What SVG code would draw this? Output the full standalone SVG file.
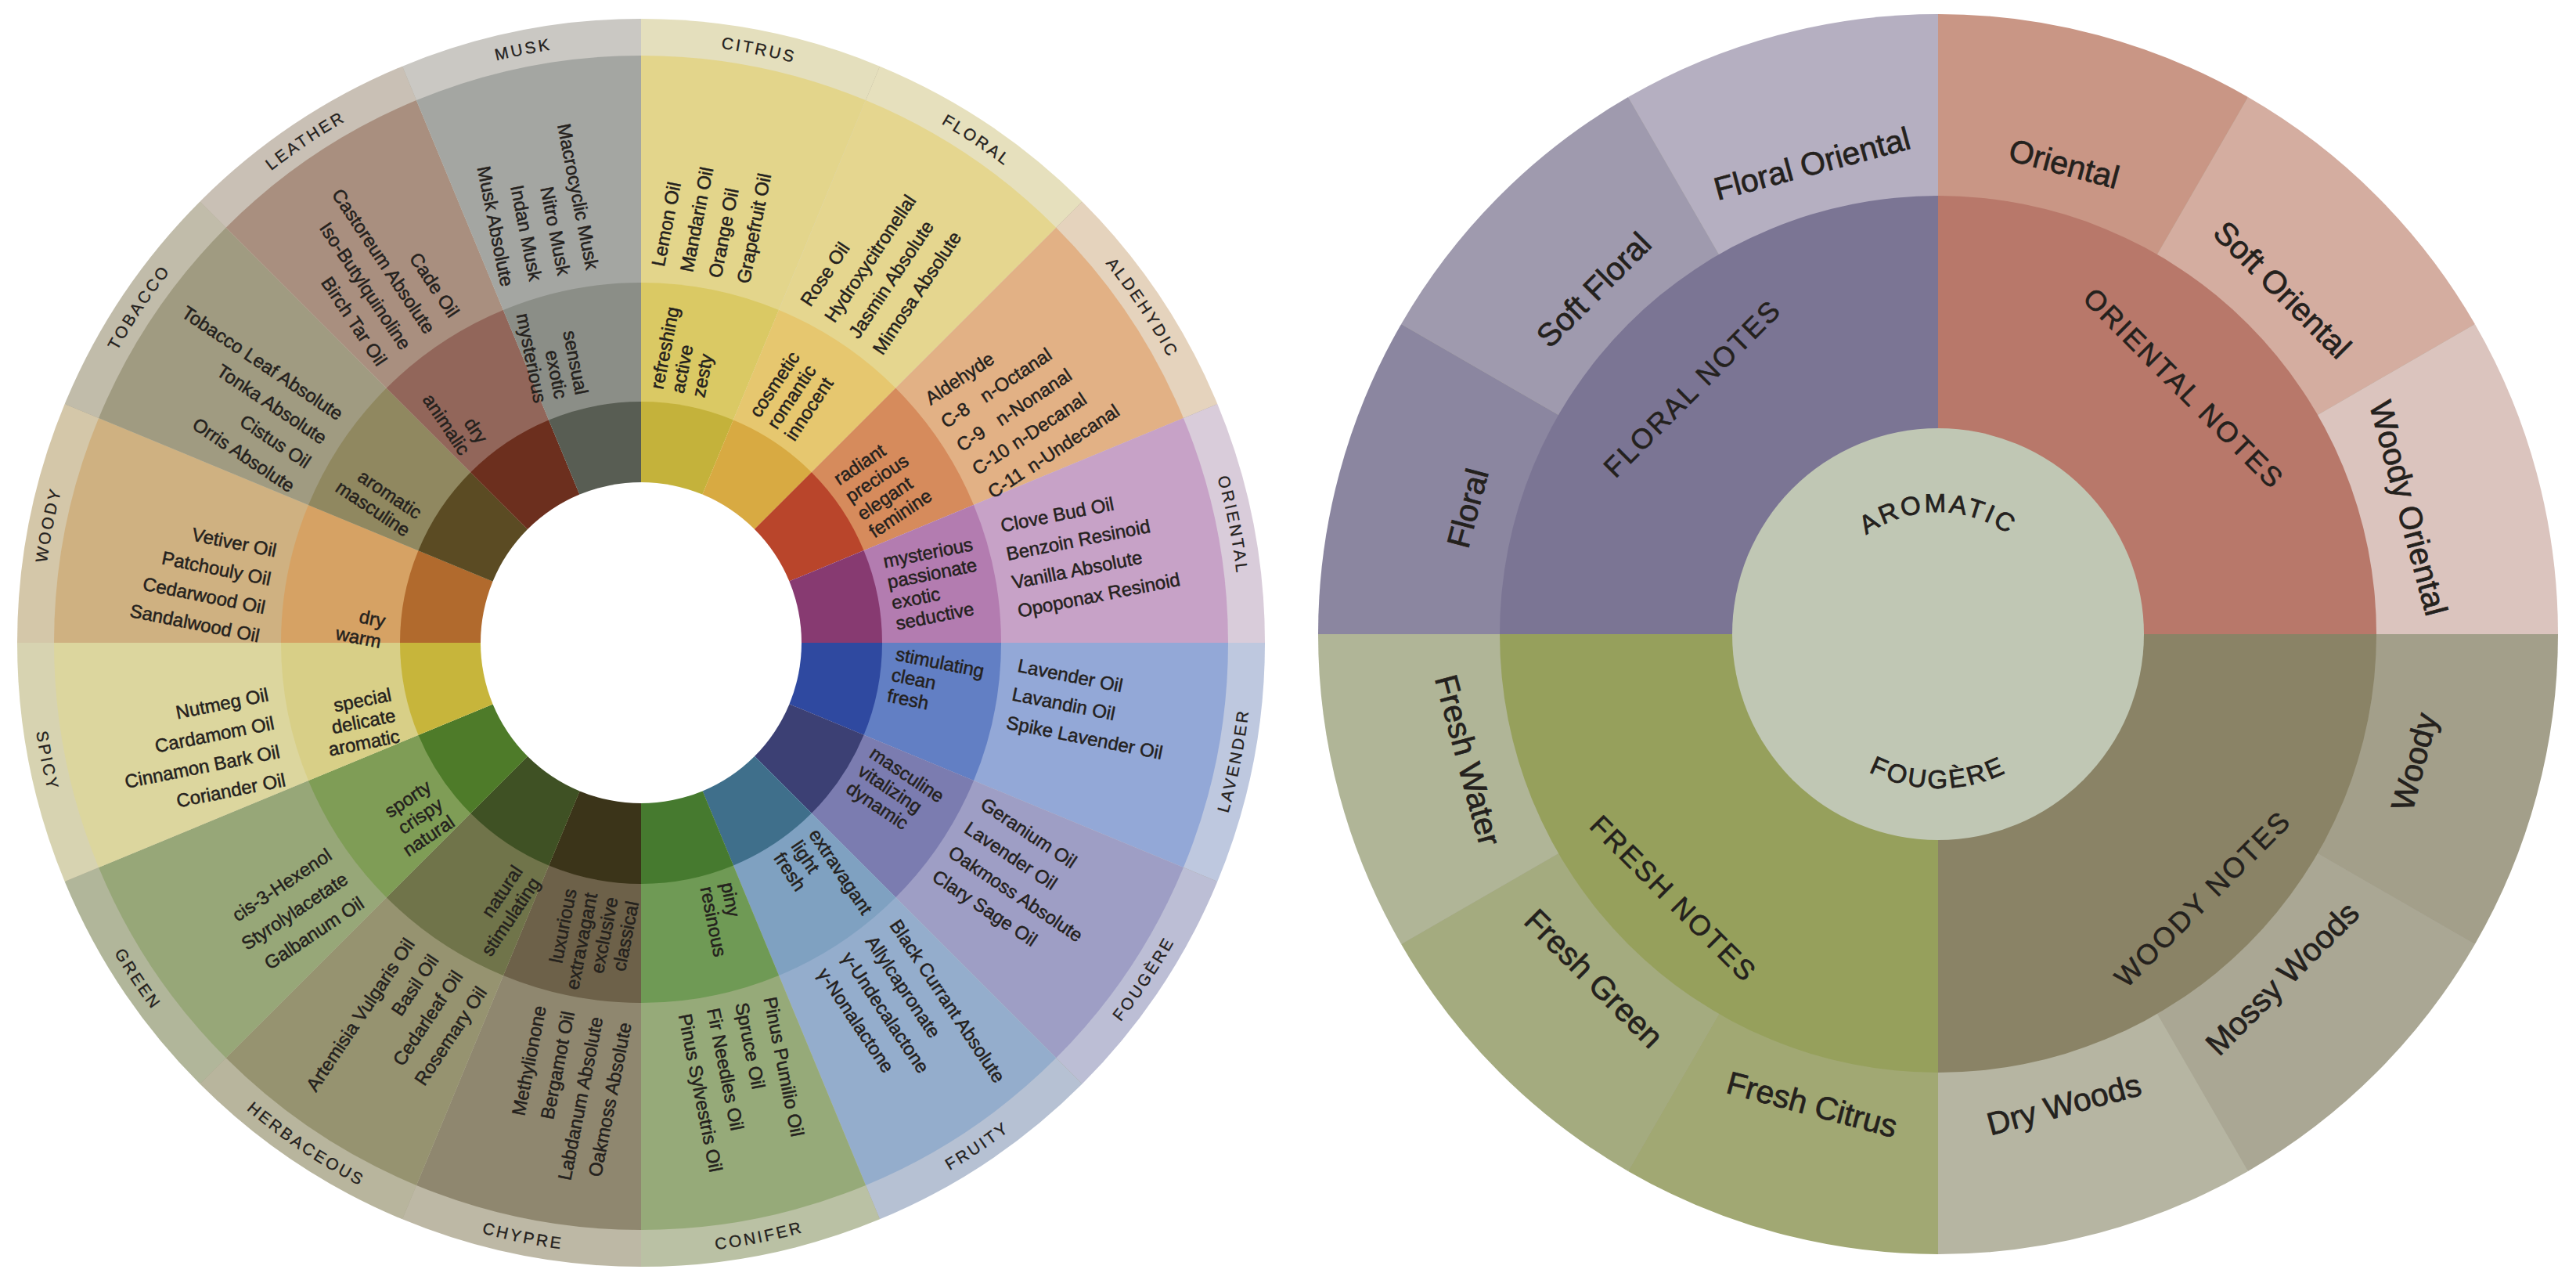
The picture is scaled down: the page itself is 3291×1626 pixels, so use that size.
<svg xmlns="http://www.w3.org/2000/svg" width="3291" height="1626" viewBox="0 0 3291 1626">
<defs>
<path id="w16" d="M0 0L0 -1A1 1 0 0 1 0.382683 -0.92388Z"/>
<path id="w12" d="M0 0L0 -1A1 1 0 0 1 0.5 -0.866025Z"/>
<path id="w4" d="M0 0L0 -1A1 1 0 0 1 1 0Z"/>
<path id="lt" d="M819 1587A766 766 0 0 1 819 55A766 766 0 0 1 819 1587"/>
<path id="lb" d="M819 40A781 781 0 0 0 819 1602A781 781 0 0 0 819 40"/>
<path id="rt" d="M2476 966A156 156 0 0 1 2476 654A156 156 0 0 1 2476 966"/>
<path id="rb" d="M2476 613A197 197 0 0 0 2476 1007A197 197 0 0 0 2476 613"/>
</defs>
<style>
text{font-family:"Liberation Sans",Arial,sans-serif;fill:#24211d;stroke:#24211d;stroke-width:0.5px}
.o,.d{font-size:24px;dominant-baseline:central}
.r{text-anchor:start}
.l{text-anchor:end}
.cat{font-size:21px;letter-spacing:3px;text-anchor:middle;stroke-width:0.3px}
.sub{font-size:41px;text-anchor:middle;dominant-baseline:central;stroke-width:0.7px}
.note{font-size:36px;letter-spacing:2.5px;text-anchor:middle;dominant-baseline:central;stroke-width:0.6px}
.ctr{font-size:33px;letter-spacing:3px;text-anchor:middle;stroke-width:0.8px}
</style>
<rect width="3291" height="1626" fill="#fff"/>

<!-- LEFT WHEEL: wedges -->
<g id="left-wheel">
<circle cx="819" cy="821" r="796" fill="#a8a28e"/>
<g id="seg-citrus" transform="translate(819 821) rotate(0)">
<use href="#w16" transform="scale(797)" fill="#e4dfbd"/><use href="#w16" transform="scale(750)" fill="#e3d58b"/><use href="#w16" transform="scale(460)" fill="#dac964"/><use href="#w16" transform="scale(308)" fill="#c4b23b"/></g>
<g id="seg-floral" transform="translate(819 821) rotate(22.5)">
<use href="#w16" transform="scale(797)" fill="#e6e0bd"/><use href="#w16" transform="scale(750)" fill="#e5d68f"/><use href="#w16" transform="scale(460)" fill="#e6c76f"/><use href="#w16" transform="scale(308)" fill="#d8aa42"/></g>
<g id="seg-aldehydic" transform="translate(819 821) rotate(45)">
<use href="#w16" transform="scale(797)" fill="#e5d3bd"/><use href="#w16" transform="scale(750)" fill="#e2b185"/><use href="#w16" transform="scale(460)" fill="#d68b5c"/><use href="#w16" transform="scale(308)" fill="#b9452b"/></g>
<g id="seg-oriental" transform="translate(819 821) rotate(67.5)">
<use href="#w16" transform="scale(797)" fill="#d9ccda"/><use href="#w16" transform="scale(750)" fill="#c7a2c7"/><use href="#w16" transform="scale(460)" fill="#b37cb0"/><use href="#w16" transform="scale(308)" fill="#873a71"/></g>
<g id="seg-lavender" transform="translate(819 821) rotate(90)">
<use href="#w16" transform="scale(797)" fill="#bec8df"/><use href="#w16" transform="scale(750)" fill="#93a8d7"/><use href="#w16" transform="scale(460)" fill="#627fc4"/><use href="#w16" transform="scale(308)" fill="#2f49a0"/></g>
<g id="seg-fougere" transform="translate(819 821) rotate(112.5)">
<use href="#w16" transform="scale(797)" fill="#bcbed5"/><use href="#w16" transform="scale(750)" fill="#9e9ec5"/><use href="#w16" transform="scale(460)" fill="#7b7cb0"/><use href="#w16" transform="scale(308)" fill="#3c4074"/></g>
<g id="seg-fruity" transform="translate(819 821) rotate(135)">
<use href="#w16" transform="scale(797)" fill="#b6c1d3"/><use href="#w16" transform="scale(750)" fill="#94adcc"/><use href="#w16" transform="scale(460)" fill="#7fa1c1"/><use href="#w16" transform="scale(308)" fill="#3f6f8b"/></g>
<g id="seg-conifer" transform="translate(819 821) rotate(157.5)">
<use href="#w16" transform="scale(797)" fill="#bac1a4"/><use href="#w16" transform="scale(750)" fill="#96aa79"/><use href="#w16" transform="scale(460)" fill="#6f9a55"/><use href="#w16" transform="scale(308)" fill="#467a2f"/></g>
<g id="seg-chypre" transform="translate(819 821) rotate(180)">
<use href="#w16" transform="scale(797)" fill="#bdb8a5"/><use href="#w16" transform="scale(750)" fill="#8f876f"/><use href="#w16" transform="scale(460)" fill="#6d6149"/><use href="#w16" transform="scale(308)" fill="#3b3419"/></g>
<g id="seg-herbaceous" transform="translate(819 821) rotate(202.5)">
<use href="#w16" transform="scale(797)" fill="#b8b59d"/><use href="#w16" transform="scale(750)" fill="#969370"/><use href="#w16" transform="scale(460)" fill="#70744a"/><use href="#w16" transform="scale(308)" fill="#3f5124"/></g>
<g id="seg-green" transform="translate(819 821) rotate(225)">
<use href="#w16" transform="scale(797)" fill="#b1b69a"/><use href="#w16" transform="scale(750)" fill="#97a778"/><use href="#w16" transform="scale(460)" fill="#7f9d56"/><use href="#w16" transform="scale(308)" fill="#4e7b29"/></g>
<g id="seg-spicy" transform="translate(819 821) rotate(247.5)">
<use href="#w16" transform="scale(797)" fill="#d7d3b1"/><use href="#w16" transform="scale(750)" fill="#dcd69e"/><use href="#w16" transform="scale(460)" fill="#d8cf87"/><use href="#w16" transform="scale(308)" fill="#c7b53b"/></g>
<g id="seg-woody" transform="translate(819 821) rotate(270)">
<use href="#w16" transform="scale(797)" fill="#d4c7a9"/><use href="#w16" transform="scale(750)" fill="#cfb181"/><use href="#w16" transform="scale(460)" fill="#d6a264"/><use href="#w16" transform="scale(308)" fill="#b16a2d"/></g>
<g id="seg-tobacco" transform="translate(819 821) rotate(292.5)">
<use href="#w16" transform="scale(797)" fill="#c1bcaa"/><use href="#w16" transform="scale(750)" fill="#a09b81"/><use href="#w16" transform="scale(460)" fill="#908860"/><use href="#w16" transform="scale(308)" fill="#5b4b23"/></g>
<g id="seg-leather" transform="translate(819 821) rotate(315)">
<use href="#w16" transform="scale(797)" fill="#c9c0b5"/><use href="#w16" transform="scale(750)" fill="#a98f7f"/><use href="#w16" transform="scale(460)" fill="#92665a"/><use href="#w16" transform="scale(308)" fill="#6c2f1e"/></g>
<g id="seg-musk" transform="translate(819 821) rotate(337.5)">
<use href="#w16" transform="scale(797)" fill="#cac8c3"/><use href="#w16" transform="scale(750)" fill="#a4a6a2"/><use href="#w16" transform="scale(460)" fill="#8b8e87"/><use href="#w16" transform="scale(308)" fill="#585d53"/></g>
<circle cx="819" cy="821" r="205" fill="#fff"/>
</g>

<!-- LEFT WHEEL: texts -->
<g id="left-texts">
<g id="t-citrus" transform="translate(819 821) rotate(-78.75)">
<text class="o r" x="476" y="-73">Lemon Oil</text><text class="o r" x="476" y="-36">Mandarin Oil</text><text class="o r" x="476" y="1">Orange Oil</text><text class="o r" x="476" y="38">Grapefruit Oil</text>
<text class="d r" x="322" y="-44">refreshing</text><text class="d r" x="322" y="-17">active</text><text class="d r" x="322" y="10">zesty</text></g>
<g id="t-floral" transform="translate(819 821) rotate(-56.25)">
<text class="o r" x="476" y="-66.5">Rose Oil</text><text class="o r" x="476" y="-29.5">Hydroxycitronellal</text><text class="o r" x="476" y="7.5">Jasmin Absolute</text><text class="o r" x="476" y="44.5">Mimosa Absolute</text>
<text class="d r" x="322" y="-42">cosmetic</text><text class="d r" x="322" y="-15">romantic</text><text class="d r" x="322" y="12">innocent</text></g>
<g id="t-aldehydic" transform="translate(819 821) rotate(-33.75)">
<text class="o r" x="476" y="-55">Aldehyde</text>
<text class="o r" x="476" y="-19">C-8<tspan x="536">n-Octanal</tspan></text>
<text class="o r" x="476" y="17">C-9<tspan x="536">n-Nonanal</tspan></text>
<text class="o r" x="476" y="53">C-10<tspan x="536">n-Decanal</tspan></text>
<text class="o r" x="476" y="89">C-11<tspan x="536">n-Undecanal</tspan></text>
<text class="d r" x="322" y="-34.5">radiant</text><text class="d r" x="322" y="-7.5">precious</text><text class="d r" x="322" y="19.5">elegant</text><text class="d r" x="322" y="46.5">feminine</text></g>
<g id="t-oriental" transform="translate(819 821) rotate(-11.25)">
<text class="o r" x="480" y="-57">Clove Bud Oil</text><text class="o r" x="480" y="-20">Benzoin Resinoid</text><text class="o r" x="480" y="17">Vanilla Absolute</text><text class="o r" x="480" y="54">Opoponax Resinoid</text>
<text class="d r" x="324" y="-41.5">mysterious</text><text class="d r" x="324" y="-14.5">passionate</text><text class="d r" x="324" y="12.5">exotic</text><text class="d r" x="324" y="39.5">seductive</text></g>
<g id="t-lavender" transform="translate(819 821) rotate(11.25)">
<text class="o r" x="478" y="-66">Lavender Oil</text><text class="o r" x="478" y="-29">Lavandin Oil</text><text class="o r" x="478" y="8">Spike Lavender Oil</text>
<text class="d r" x="322" y="-50">stimulating</text><text class="d r" x="322" y="-23">clean</text><text class="d r" x="322" y="4">fresh</text></g>
<g id="t-fougere" transform="translate(819 821) rotate(33.75)">
<text class="o r" x="476" y="-73.5">Geranium Oil</text><text class="o r" x="476" y="-36.5">Lavender Oil</text><text class="o r" x="476" y="0.5">Oakmoss Absolute</text><text class="o r" x="476" y="37.5">Clary Sage Oil</text>
<text class="d r" x="322" y="-49">masculine</text><text class="d r" x="322" y="-22">vitalizing</text><text class="d r" x="322" y="5">dynamic</text></g>
<g id="t-fruity" transform="translate(819 821) rotate(56.25)">
<text class="o r" x="476" y="-71.5">Black Currant Absolute</text><text class="o r" x="476" y="-34.5">Allylcapronate</text><text class="o r" x="476" y="2.5">γ-Undecalactone</text><text class="o r" x="476" y="39.5">γ-Nonalactone</text>
<text class="d r" x="322" y="-50">extravagant</text><text class="d r" x="322" y="-23">light</text><text class="d r" x="322" y="4">fresh</text></g>
<g id="t-conifer" transform="translate(819 821) rotate(78.75)">
<text class="o r" x="476" y="-73.5">Pinus Pumilio Oil</text><text class="o r" x="476" y="-36.5">Spruce Oil</text><text class="o r" x="476" y="0.5">Fir Needles Oil</text><text class="o r" x="476" y="37.5">Pinus Sylvestris Oil</text>
<text class="d r" x="322" y="-48.5">piny</text><text class="d r" x="322" y="-21.5">resinous</text></g>
<g id="t-chypre" transform="translate(819 821) rotate(-78.75)">
<text class="o l" x="-480" y="-36.5">Methylionone</text><text class="o l" x="-480" y="0.5">Bergamot Oil</text><text class="o l" x="-480" y="37.5">Labdanum Absolute</text><text class="o l" x="-480" y="74.5">Oakmoss Absolute</text>
<text class="d l" x="-326" y="-27.5">luxurious</text><text class="d l" x="-326" y="-0.5">extravagant</text><text class="d l" x="-326" y="26.5">exclusive</text><text class="d l" x="-326" y="53.5">classical</text></g>
<g id="t-herbaceous" transform="translate(819 821) rotate(-56.25)">
<text class="o l" x="-480" y="-34.5">Artemisia Vulgaris Oil</text><text class="o l" x="-480" y="2.5">Basil Oil</text><text class="o l" x="-480" y="39.5">Cedarleaf Oil</text><text class="o l" x="-480" y="76.5">Rosemary Oil</text>
<text class="d l" x="-326" y="28.5">natural</text><text class="d l" x="-326" y="55.5">stimulating</text></g>
<g id="t-green" transform="translate(819 821) rotate(-33.75)">
<text class="o l" x="-480" y="2">cis-3-Hexenol</text><text class="o l" x="-480" y="39">Styrolylacetate</text><text class="o l" x="-480" y="76">Galbanum Oil</text>
<text class="d l" x="-326" y="0">sporty</text><text class="d l" x="-326" y="27">crispy</text><text class="d l" x="-326" y="54">natural</text></g>
<g id="t-spicy" transform="translate(819 821) rotate(-11.25)">
<text class="o l" x="-480" y="-28.5">Nutmeg Oil</text><text class="o l" x="-480" y="8.5">Cardamom Oil</text><text class="o l" x="-480" y="45.5">Cinnamon Bark Oil</text><text class="o l" x="-480" y="82.5">Coriander Oil</text>
<text class="d l" x="-326" y="2">special</text><text class="d l" x="-326" y="29">delicate</text><text class="d l" x="-326" y="56">aromatic</text></g>
<g id="t-woody" transform="translate(819 821) rotate(11.25)">
<text class="o l" x="-480" y="-24.5">Vetiver Oil</text><text class="o l" x="-480" y="12.5">Patchouly Oil</text><text class="o l" x="-480" y="49.5">Cedarwood Oil</text><text class="o l" x="-480" y="86.5">Sandalwood Oil</text>
<text class="d l" x="-326" y="36.5">dry</text><text class="d l" x="-326" y="63.5">warm</text></g>
<g id="t-tobacco" transform="translate(819 821) rotate(33.75)">
<text class="o l" x="-480" y="-28.5">Tobacco Leaf Absolute</text><text class="o l" x="-480" y="8.5">Tonka Absolute</text><text class="o l" x="-480" y="45.5">Cistus Oil</text><text class="o l" x="-480" y="82.5">Orris Absolute</text>
<text class="d l" x="-326" y="20.5">aromatic</text><text class="d l" x="-326" y="47.5">masculine</text></g>
<g id="t-leather" transform="translate(819 821) rotate(56.25)">
<text class="o l" x="-480" y="-34.5">Cade Oil</text><text class="o l" x="-480" y="2.5">Castoreum Absolute</text><text class="o l" x="-480" y="39.5">Iso-Butylquinoline</text><text class="o l" x="-480" y="76.5">Birch Tar Oil</text>
<text class="d l" x="-326" y="24.5">dry</text><text class="d l" x="-326" y="51.5">animalic</text></g>
<g id="t-musk" transform="translate(819 821) rotate(78.75)">
<text class="o l" x="-480" y="-32.5">Macrocyclic Musk</text><text class="o l" x="-480" y="4.5">Nitro Musk</text><text class="o l" x="-480" y="41.5">Indan Musk</text><text class="o l" x="-480" y="78.5">Musk Absolute</text>
<text class="d l" x="-326" y="12">sensual</text><text class="d l" x="-326" y="39">exotic</text><text class="d l" x="-326" y="66">mysterious</text></g>
<g id="categories">
<text class="cat"><textPath href="#lt" startOffset="28.125%">WOODY</textPath></text>
<text class="cat"><textPath href="#lt" startOffset="34.375%">TOBACCO</textPath></text>
<text class="cat"><textPath href="#lt" startOffset="40.625%">LEATHER</textPath></text>
<text class="cat"><textPath href="#lt" startOffset="46.875%">MUSK</textPath></text>
<text class="cat"><textPath href="#lt" startOffset="53.125%">CITRUS</textPath></text>
<text class="cat"><textPath href="#lt" startOffset="59.375%">FLORAL</textPath></text>
<text class="cat"><textPath href="#lt" startOffset="65.625%">ALDEHYDIC</textPath></text>
<text class="cat"><textPath href="#lt" startOffset="71.875%">ORIENTAL</textPath></text>
<text class="cat"><textPath href="#lb" startOffset="28.125%">SPICY</textPath></text>
<text class="cat"><textPath href="#lb" startOffset="34.375%">GREEN</textPath></text>
<text class="cat"><textPath href="#lb" startOffset="40.625%">HERBACEOUS</textPath></text>
<text class="cat"><textPath href="#lb" startOffset="46.875%">CHYPRE</textPath></text>
<text class="cat"><textPath href="#lb" startOffset="53.125%">CONIFER</textPath></text>
<text class="cat"><textPath href="#lb" startOffset="59.375%">FRUITY</textPath></text>
<text class="cat"><textPath href="#lb" startOffset="65.625%">FOUGÈRE</textPath></text>
<text class="cat"><textPath href="#lb" startOffset="71.875%">LAVENDER</textPath></text>
</g>
</g>

<!-- RIGHT WHEEL -->
<g id="right-wheel">
<circle cx="2476" cy="810" r="791" fill="#a9a697"/>
<g id="q-oriental" transform="translate(2476 810)">
<use href="#w12" transform="rotate(0) scale(792)" fill="#c99685"/>
<use href="#w12" transform="rotate(30) scale(792)" fill="#d4ada0"/>
<use href="#w12" transform="rotate(60) scale(792)" fill="#dbc4be"/>
<use href="#w4" transform="rotate(0) scale(560)" fill="#b8786a"/></g>
<g id="q-woody" transform="translate(2476 810)">
<use href="#w12" transform="rotate(90) scale(792)" fill="#a39f8a"/>
<use href="#w12" transform="rotate(120) scale(792)" fill="#aaa794"/>
<use href="#w12" transform="rotate(150) scale(792)" fill="#b6b5a2"/>
<use href="#w4" transform="rotate(90) scale(560)" fill="#8a8366"/></g>
<g id="q-fresh" transform="translate(2476 810)">
<use href="#w12" transform="rotate(180) scale(792)" fill="#a1a873"/>
<use href="#w12" transform="rotate(210) scale(792)" fill="#a4ab7f"/>
<use href="#w12" transform="rotate(240) scale(792)" fill="#b0b597"/>
<use href="#w4" transform="rotate(180) scale(560)" fill="#96a05c"/></g>
<g id="q-floral" transform="translate(2476 810)">
<use href="#w12" transform="rotate(270) scale(792)" fill="#8b86a0"/>
<use href="#w12" transform="rotate(300) scale(792)" fill="#9f9aae"/>
<use href="#w12" transform="rotate(330) scale(792)" fill="#b5afc1"/>
<use href="#w4" transform="rotate(270) scale(560)" fill="#7b7594"/></g>
<g id="center-aromatic">
<circle cx="2476" cy="810" r="263" fill="#c0c7b4"/>
<text class="ctr"><textPath href="#rt" startOffset="50%">AROMATIC</textPath></text>
<text class="ctr"><textPath href="#rb" startOffset="50%">FOUGÈRE</textPath></text>
</g>
<g id="right-labels" transform="translate(2476 810)">
<text class="sub" transform="rotate(15) translate(0 -622)">Oriental</text>
<text class="sub" transform="rotate(45) translate(0 -622)">Soft Oriental</text>
<text class="sub" transform="rotate(75) translate(0 -622)">Woody Oriental</text>
<text class="sub" transform="rotate(-75) translate(0 630)">Woody</text>
<text class="sub" transform="rotate(-45) translate(0 622)">Mossy Woods</text>
<text class="sub" transform="rotate(-15) translate(0 622)">Dry Woods</text>
<text class="sub" transform="rotate(15) translate(0 622)">Fresh Citrus</text>
<text class="sub" transform="rotate(45) translate(0 622)">Fresh Green</text>
<text class="sub" transform="rotate(75) translate(0 622)">Fresh Water</text>
<text class="sub" transform="rotate(-75) translate(0 -622)">Floral</text>
<text class="sub" transform="rotate(-45) translate(0 -622)">Soft Floral</text>
<text class="sub" transform="rotate(-15) translate(0 -622)">Floral Oriental</text>
<text class="note" transform="rotate(-45) translate(0 -444)">FLORAL NOTES</text>
<text class="note" transform="rotate(45) translate(0 -444)">ORIENTAL NOTES</text>
<text class="note" transform="rotate(-45) translate(0 478)">WOODY NOTES</text>
<text class="note" transform="rotate(45) translate(0 478)">FRESH NOTES</text>
</g>
</g>
</svg>
